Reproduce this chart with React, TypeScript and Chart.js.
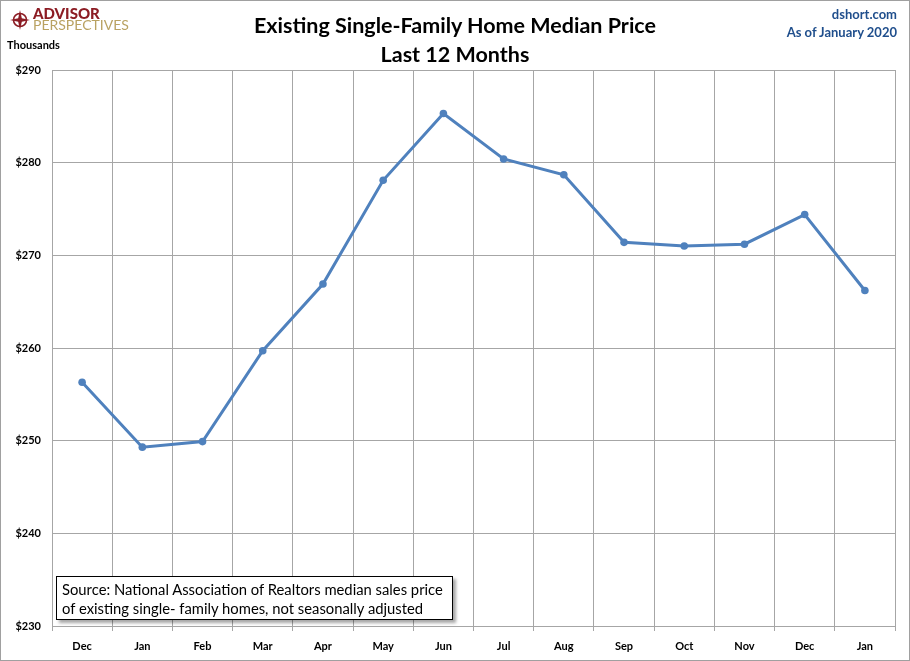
import { useRef, useEffect } from 'react'
import { Chart, registerables } from 'chart.js'
Chart.register(...registerables)

const MONTHS = ['Dec', 'Jan', 'Feb', 'Mar', 'Apr', 'May', 'Jun', 'Jul', 'Aug', 'Sep', 'Oct', 'Nov', 'Dec', 'Jan']
const PRICES = [256.3, 249.3, 249.9, 259.7, 266.9, 278.1, 285.3, 280.4, 278.7, 271.4, 271.0, 271.2, 274.4, 266.2]
const Y_MIN = 230
const Y_MAX = 290
const Y_STEP = 10

const FONT = 'Lato, "Open Sans", sans-serif'
const GRID = '#a6a6a6'
const LINE = '#4f81bd'

export default function App() {
  const ref = useRef<HTMLCanvasElement>(null)
  const inst = useRef<Chart | null>(null)

  useEffect(() => {
    document.body.style.margin = '0'
    if (!ref.current) return
    inst.current?.destroy()
    inst.current = new Chart(ref.current, {
      type: 'line',
      data: {
        labels: MONTHS,
        datasets: [{
          data: PRICES, borderColor: LINE, backgroundColor: LINE, borderWidth: 3,
          pointRadius: 3.8, pointBackgroundColor: LINE, pointBorderWidth: 0, tension: 0,
        }],
      },
      options: {
        animation: false, responsive: false, maintainAspectRatio: false,
        layout: { padding: { top: 70, right: 15, left: 0, bottom: 0 } },
        plugins: { legend: { display: false }, tooltip: { enabled: false } },
        scales: {
          x: {
            offset: true,
            grid: { offset: true, color: GRID, lineWidth: 1, tickLength: 5, drawTicks: true },
            border: { color: GRID },
            ticks: { color: '#000', font: { family: FONT, size: 11, weight: 'bold' }, padding: 9, maxRotation: 0, autoSkip: false },
            afterFit: (s: any) => { s.height = 35 },
          },
          y: {
            min: Y_MIN, max: Y_MAX,
            grid: { color: GRID, lineWidth: 1, drawTicks: false },
            border: { color: GRID },
            ticks: { stepSize: Y_STEP, color: '#000', font: { family: FONT, size: 11, weight: 'bold' }, padding: 11, callback: v => '$' + v },
            afterFit: (s: any) => { s.width = 52 },
          },
        },
      },
    })
    return () => inst.current?.destroy()
  }, [])

  return (
    <div style={{ position: 'relative', width: 910, height: 661, fontFamily: FONT, background: '#fff', overflow: 'hidden' }}>
      <canvas ref={ref} width={910} height={661} style={{ position: 'absolute', left: 0, top: 0 }} />
      <div style={{ position: 'absolute', left: 0, top: 0, width: 908, height: 659, border: '1px solid #a0a0a0', pointerEvents: 'none' }} />

      {/* logo */}
      <svg width={20} height={20} viewBox="-10 -10 20 20" style={{ position: 'absolute', left: 10, top: 10 }}>
        <circle r={6.5} fill="none" stroke="#8c1c24" strokeWidth={1.6} />
        <polygon points="0,-10 1.8,-1.8 10,0 1.8,1.8 0,10 -1.8,1.8 -10,0 -1.8,-1.8" fill="#8c1c24" />
      </svg>
      <div style={{ position: 'absolute', left: 33, top: 6, fontSize: 15, fontWeight: 900, color: '#8c1c24', lineHeight: '15px' }}>ADVISOR</div>
      <div style={{ position: 'absolute', left: 33, top: 18, fontSize: 14, fontWeight: 400, color: '#b9a262', lineHeight: '14px' }}>PERSPECTIVES</div>
      <div style={{ position: 'absolute', left: 7, top: 38, fontSize: 11, fontWeight: 'bold', color: '#000' }}>Thousands</div>

      {/* title */}
      <div style={{ position: 'absolute', left: 0, width: 910, top: 11, textAlign: 'center', fontSize: 21.5, fontWeight: 'bold', color: '#000', lineHeight: '29px' }}>
        Existing Single-Family Home Median Price<br />Last 12 Months
      </div>

      <div style={{ position: 'absolute', right: 13, top: 5, textAlign: 'right', fontSize: 13, fontWeight: 'bold', color: '#1f4e8c', lineHeight: '18px' }}>
        dshort.com<br />As of January 2020
      </div>

      {/* source note */}
      <div style={{ position: 'absolute', left: 56, top: 576, width: 390, height: 39, border: '1px solid #000', background: '#fff', boxShadow: '3px 3px 3px rgba(0,0,0,0.35)', boxSizing: 'content-box', fontSize: 14.8, lineHeight: '19px', padding: '3px 0 0 5px', color: '#000', whiteSpace: 'nowrap' }}>
        Source: National Association of Realtors median sales price<br />of existing single- family homes, not seasonally adjusted
      </div>
    </div>
  )
}
